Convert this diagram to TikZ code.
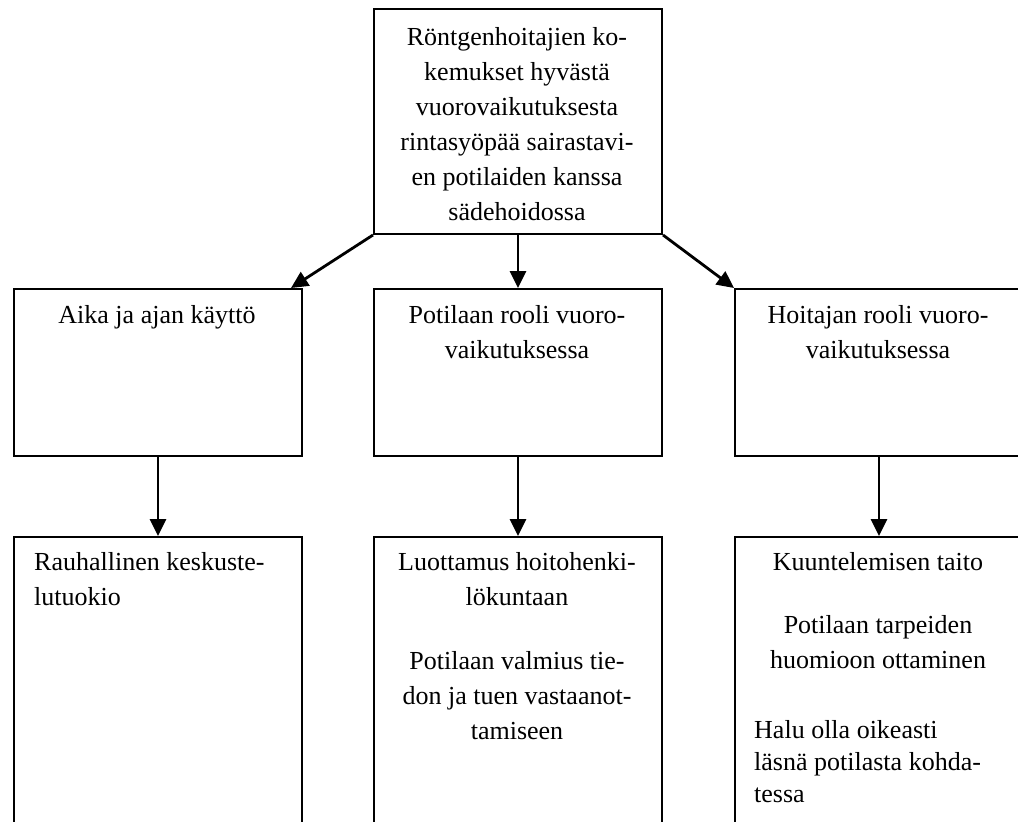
\documentclass[tikz,border=0pt]{standalone}
\usepackage{fontspec}
\setmainfont{Liberation Serif}
\usetikzlibrary{arrows.meta}
\tikzset{
  box/.style={draw, line width=2pt, rectangle, inner sep=0pt, anchor=north west, minimum width=288pt},
  txt/.style={inner sep=0pt, anchor=north, align=center, font=\fontsize{26}{35}\selectfont},
  txtl/.style={inner sep=0pt, anchor=north west, align=left, font=\fontsize{26}{35}\selectfont},
  conn/.style={line width=2.8pt, -{Triangle[length=17pt,width=16pt]}}
}
\begin{document}
\begin{tikzpicture}[x=1pt,y=-1pt]
\useasboundingbox (0,0) rectangle (1018,822);
\clip (0,0) rectangle (1018,822);
\fill[white] (0,0) rectangle (1018,822);
% boxes
\node[box, minimum height=225pt] (top) at (373,8) {};
\node[box, minimum height=167pt] (ml) at (13,288) {};
\node[box, minimum height=167pt] (mm) at (373,288) {};
\node[box, minimum height=167pt] (mr) at (734,288) {};
\node[box, minimum height=310pt] (bl) at (13,536) {};
\node[box, minimum height=310pt] (bm) at (373,536) {};
\node[box, minimum height=310pt] (br) at (734,536) {};
% texts
\node[txt] (ttop) at (517,21) {\strut Röntgenhoitajien ko-\\kemukset hyvästä\\vuorovaikutuksesta\\rintasyöpää sairastavi-\\en potilaiden kanssa\\sädehoidossa};
\node[txt] (tml) at (157,299) {\strut Aika ja ajan käyttö};
\node[txt] (tmm) at (517,299) {\strut Potilaan rooli vuoro-\\vaikutuksessa};
\node[txt] (tmr) at (878,299) {\strut Hoitajan rooli vuoro-\\vaikutuksessa};
\node[txtl] (tbl) at (34,546) {\strut Rauhallinen keskuste-\\lutuokio};
\node[txt] (tbm1) at (517,546) {\strut Luottamus hoitohenki-\\lökuntaan};
\node[txt] (tbm2) at (517,645) {\strut Potilaan valmius tie-\\don ja tuen vastaanot-\\tamiseen};
\node[txt] (tbr1) at (878,546) {\strut Kuuntelemisen taito};
\node[txt] (tbr2) at (878,609) {\strut Potilaan tarpeiden\\huomioon ottaminen};
\node[txtl, font=\fontsize{26}{32}\selectfont] (tbr3) at (754,716) {\strut Halu olla oikeasti\\läsnä potilasta kohda-\\tessa};
% connectors
\draw[conn] (top.south west) -- ([xshift=-12pt]ml.north east);
\draw[conn] (top.south) -- (mm.north);
\draw[conn] (top.south east) -- (mr.north west);
\draw[conn] (ml.south) -- (bl.north);
\draw[conn] (mm.south) -- (bm.north);
\draw[conn] (mr.south) -- (br.north);
\end{tikzpicture}
\end{document}
